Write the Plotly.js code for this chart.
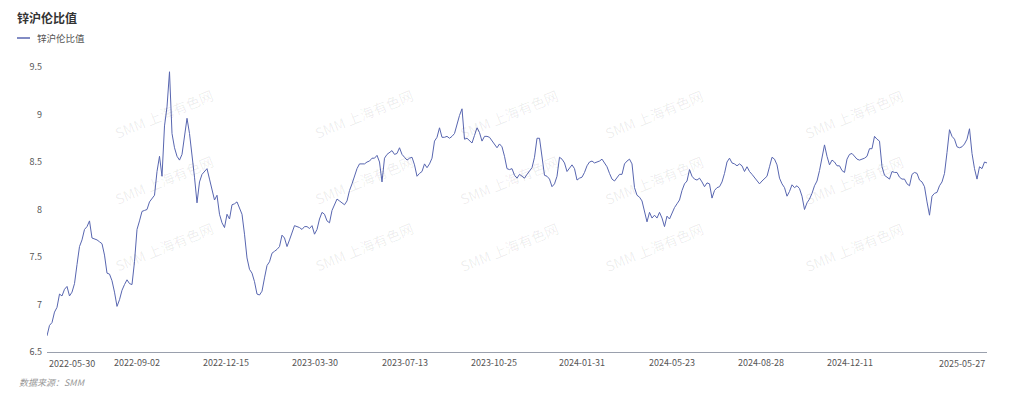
<!DOCTYPE html>
<html>
<head>
<meta charset="utf-8">
<script src="https://cdn.plot.ly/plotly-3.0.1.min.js"></script>
<style>html,body{margin:0;padding:0;background:#fff;}#chart{width:1024px;height:399px;}</style>
</head>
<body>
<div id="chart"></div>
<script>
// 锌沪伦比值 readings, evenly sampled along the trading-day axis
const seg2022 = [6.67,6.78,6.81,6.92,6.97,7.11,7.09,7.16,7.19,7.09,
7.13,7.22,7.42,7.61,7.68,7.79,7.82,7.88,7.70,7.69,
7.68,7.66,7.64,7.52,7.33,7.32,7.25,7.13,6.98,7.05,
7.15,7.21,7.26,7.22,7.21,7.45,7.79,7.88,7.98,7.99,
8.00,8.08,8.11,8.15,8.40,8.56,8.35,8.88,9.08,9.45,
8.80,8.65,8.56,8.52,8.58,8.78,8.96,8.80,8.59,8.34,
8.07,8.29,8.37,8.40,8.43,8.32,8.22,8.10,8.15,7.95,
7.86,7.81,7.95,7.90,8.05,8.06];
const seg2023a = [8.08,8.02,7.95,7.74,7.49,7.37,7.33,7.24,7.11,7.10,
7.14,7.28,7.41,7.45,7.54,7.56,7.58,7.61,7.73,7.70,
7.61,7.68,7.76,7.83,7.82,7.81,7.79,7.82,7.82,7.80,
7.83,7.74,7.79,7.90,7.97,7.95,7.88,7.86,7.99,8.06,
8.11,8.09,8.07,8.05,8.09,8.20,8.27,8.35,8.43,8.48,
8.48,8.48,8.50,8.51,8.54,8.54,8.57,8.50,8.29,8.54,
8.58,8.60,8.62,8.58,8.59,8.65,8.58,8.55,8.52,8.54,
8.55,8.47,8.35,8.38,8.40,8.48];
const seg2023b = [8.44,8.48,8.54,8.72,8.76,8.86,8.76,8.76,8.77,8.75,
8.77,8.80,8.91,8.99,9.06,8.74,8.75,8.72,8.70,8.78,
8.86,8.81,8.72,8.77,8.77,8.76,8.72,8.68,8.65,8.69,
8.66,8.56,8.43,8.42,8.43,8.36,8.33,8.37,8.35,8.33,
8.37,8.40,8.44,8.55,8.75,8.75,8.55,8.36,8.35,8.32,
8.24,8.27,8.35,8.55,8.53,8.49,8.40,8.43,8.47,8.43,
8.31,8.33,8.34,8.39,8.46,8.50,8.51,8.49,8.50,8.51,
8.53,8.49,8.45,8.38,8.32,8.30];
const seg2024 = [8.33,8.37,8.37,8.48,8.51,8.53,8.48,8.23,8.15,8.13,
8.09,7.97,7.87,7.97,7.91,7.94,7.91,7.97,7.91,7.82,
7.93,7.90,7.96,8.02,8.06,8.10,8.20,8.27,8.30,8.42,
8.35,8.32,8.31,8.33,8.29,8.24,8.28,8.27,8.12,8.20,
8.23,8.24,8.29,8.38,8.50,8.54,8.49,8.48,8.46,8.48,
8.46,8.40,8.45,8.40,8.37,8.34,8.31,8.27,8.30,8.33,
8.35,8.45,8.55,8.53,8.47,8.33,8.27,8.23,8.14,8.19,
8.26,8.23,8.25,8.22,8.14,8.00];
const seg2025 = [8.07,8.11,8.17,8.25,8.30,8.41,8.53,8.68,8.56,8.47,
8.52,8.50,8.46,8.46,8.41,8.39,8.53,8.58,8.59,8.56,
8.53,8.52,8.53,8.54,8.56,8.64,8.64,8.77,8.74,8.72,
8.45,8.36,8.34,8.32,8.40,8.39,8.39,8.34,8.32,8.32,
8.27,8.25,8.37,8.39,8.38,8.31,8.29,8.24,8.08,7.94,
8.14,8.17,8.18,8.25,8.29,8.38,8.60,8.84,8.77,8.74,
8.66,8.65,8.66,8.69,8.74,8.85,8.59,8.43,8.32,8.45,
8.43,8.50,8.49];

const tickLabels = ['2022-05-30','2022-09-02','2022-12-15','2023-03-30','2023-07-13','2023-10-25','2024-01-31','2024-05-23','2024-08-28','2024-12-11','2025-05-27'];
const tickIdx = [0,36,71.6,107.2,143.2,178.8,214,250,285.6,321.2,376];
const yTicks = [6.5,7,7.5,8,8.5,9,9.5];
const seriesName = '锌沪伦比值';
const sourceText = '数据来源：SMM';
const watermark = 'SMM 上海有色网';

const values = [].concat(seg2022, seg2023a, seg2023b, seg2024, seg2025);
const xs = values.map((v, i) => i);

const FONT = '"Noto Sans CJK SC", "Noto Sans", sans-serif';
const LINE = '#5866b0';

// layout geometry (pixels)
const L = 47, R = 987, T = 67, B = 352;
const px = x => (x - L) / (R - L);
const py = y => (B - y) / (B - T);

const annotations = [];
// watermark tiles
[83, 180, 278].forEach(wy => {
  [109, 309, 509, 709, 909].forEach(wx => {
    annotations.push({xref:'paper', yref:'paper', x:px(wx), y:py(wy), text:watermark, showarrow:false,
      textangle:-22, font:{family:FONT, size:14, color:'rgba(0,0,0,0.075)'}});
  });
});
// first / last x labels aligned to the ends
annotations.push({xref:'x', yref:'paper', x:tickIdx[0], y:0, yshift:-3, xanchor:'left', yanchor:'top',
  text:tickLabels[0], showarrow:false, font:{family:FONT, size:9, color:'#555'}});
annotations.push({xref:'x', yref:'paper', x:tickIdx[tickIdx.length-1], y:0, yshift:-3, xanchor:'right', yanchor:'top',
  text:tickLabels[tickLabels.length-1], showarrow:false, font:{family:FONT, size:9, color:'#555'}});
// legend text
annotations.push({xref:'paper', yref:'paper', x:px(35), y:py(38), xanchor:'left', yanchor:'middle',
  text:seriesName, showarrow:false, font:{family:FONT, size:9.5, color:'#555'}});
// source
annotations.push({xref:'paper', yref:'paper', x:px(17), y:py(383), xanchor:'left', yanchor:'middle',
  text:sourceText, showarrow:false, font:{family:FONT, size:9, color:'#999', style:'italic'}});

const layout = {
  width:1024, height:399,
  margin:{l:L, r:1024-R, t:T, b:399-B},
  paper_bgcolor:'#fff', plot_bgcolor:'#fff',
  showlegend:false,
  title:{text:seriesName, xref:'container', yref:'container', x:17/1024, xanchor:'left', y:1-19/399, yanchor:'middle',
    font:{family:FONT, size:12, color:'#333', weight:'bold'}},
  xaxis:{range:[0, values.length-1], tickmode:'array', tickvals:tickIdx.slice(1,-1), ticktext:tickLabels.slice(1,-1),
    showgrid:false, zeroline:false, showline:true, linecolor:'#9aa0ad', linewidth:1, ticks:'', ticklabelstandoff:2,
    tickfont:{family:FONT, size:9, color:'#555'}, fixedrange:true},
  yaxis:{range:[6.5, 9.5], tickmode:'array', tickvals:yTicks, showgrid:false, zeroline:false, showline:false, ticks:'',
    ticklabelstandoff:4, tickfont:{family:FONT, size:9, color:'#555'}, fixedrange:true},
  shapes:[{type:'line', xref:'paper', yref:'paper', x0:px(17), x1:px(30), y0:py(38), y1:py(38),
    line:{color:LINE, width:1.5}}],
  annotations:annotations
};

Plotly.newPlot('chart', [{x:xs, y:values, type:'scatter', mode:'lines', name:seriesName,
  line:{color:LINE, width:1}, hoverinfo:'y'}], layout, {displayModeBar:false, staticPlot:true});
</script>
</body>
</html>
